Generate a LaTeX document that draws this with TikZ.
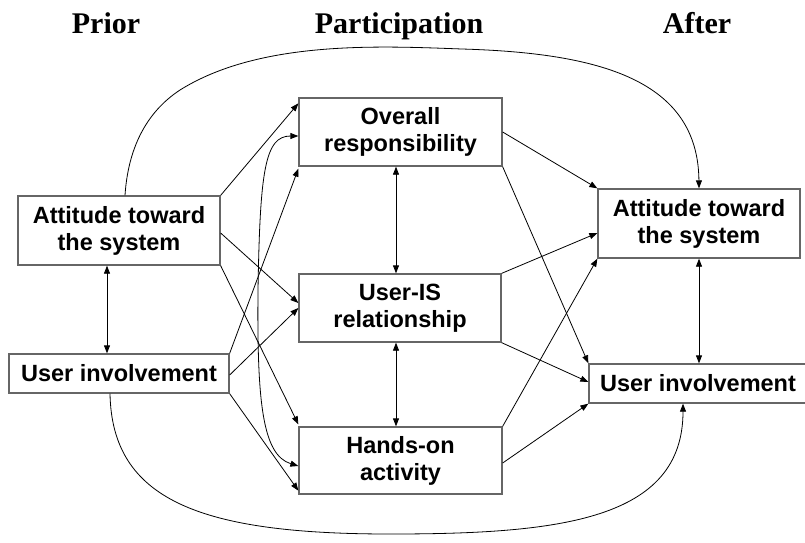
\documentclass[tikz,border=0pt]{standalone}
\usepackage{fontspec}
\setmainfont{Liberation Serif}
\newfontfamily\arialfont{Liberation Sans}
\usetikzlibrary{arrows.meta,calc}
\begin{document}
\begin{tikzpicture}[x=1pt,y=-1pt,
  box/.style={draw=black!60, line width=1.3pt, fill=white, align=center, inner sep=0pt,
    font=\arialfont\bfseries\fontsize{23.5}{27}\selectfont},
  conn/.style={draw=black, line width=0.8pt},
  arr/.style={conn, -{Triangle[length=8pt,width=6pt]}},
  darr/.style={conn, {Triangle[length=8pt,width=6pt]}-{Triangle[length=8pt,width=6pt]}},
  title/.style={font=\bfseries\fontsize{30}{36}\selectfont, anchor=base}]
\useasboundingbox (0,0) rectangle (805,542);

% titles
\node[title] (tprior) at (106,33) {Prior};
\node[title] (tpart) at (399,33) {Participation};
\node[title] (tafter) at (697,33) {After};

% boxes
\node[box, minimum width=203pt, minimum height=68pt] (ov) at (400.5,132) {Overall\\responsibility};
\node[box, minimum width=202pt, minimum height=68pt] (uis) at (400,308) {User-IS\\relationship};
\node[box, minimum width=203pt, minimum height=67pt] (ho) at (400.5,460.5) {Hands-on\\activity};
\node[box, minimum width=202pt, minimum height=69pt] (la) at (119,230.5) {Attitude toward\\the system};
\node[box, minimum width=220pt, minimum height=39pt] (lu) at (119,373.5) {User involvement};
\node[box, minimum width=202pt, minimum height=69pt] (ra) at (699,223.5) {Attitude toward\\the system};
\node[box, minimum width=218pt, minimum height=39pt] (ru) at (698,383.5) {User involvement};

% long curves
\draw[arr] ([xshift=6pt]la.north) .. controls (128,150) and (145,113) .. (180,90)
  .. controls (260,40) and (380,46) .. (462,49)
  .. controls (600,53) and (698,80) .. (ra.north);
\draw[arr] ([xshift=-9pt]lu.south) .. controls (112,500) and (200,534) .. (390,534)
  .. controls (560,534) and (683,520) .. ([xshift=-15pt]ru.south);
\draw[darr] ([yshift=-4pt]ov.west) .. controls (265,136) and (260,170) .. (258,290)
  .. controls (257,400) and (262,455) .. ([yshift=-5.5pt]ho.west);

% left side
\draw[darr] ([xshift=-12pt]la.south) -- ([xshift=-12pt]lu.north);
\draw[arr] (la.north east) -- ([yshift=-6pt]ov.north west);
\draw[arr] ([yshift=-2.5pt]la.east) -- ([yshift=5pt]uis.west);
\draw[arr] (la.south east) -- ([yshift=2pt]ho.north west);
\draw[arr] (lu.north east) -- ([yshift=-2pt]ov.south west);
\draw[arr] ([yshift=-1.5pt]lu.east) -- (uis.west);
\draw[arr] (lu.south east) -- ([yshift=4pt]ho.south west);

% middle verticals
\draw[darr] ([xshift=-4.5pt]ov.south) -- ([xshift=-4pt]uis.north);
\draw[darr] ([xshift=-4pt]uis.south) -- ([xshift=-4.5pt]ho.north);

% right side
\draw[arr] (ov.east) -- (ra.north west);
\draw[arr] (ov.south east) -- (ru.north west);
\draw[arr] (uis.north east) -- ([yshift=-9.5pt]ra.west);
\draw[arr] (uis.south east) -- ([yshift=1.5pt]ru.west);
\draw[arr] (ho.north east) -- (ra.south west);
\draw[arr] ([yshift=-2.5pt]ho.east) -- (ru.south west);
\draw[darr] (ra.south) -- (ra.south |- ru.north);
\end{tikzpicture}
\end{document}
